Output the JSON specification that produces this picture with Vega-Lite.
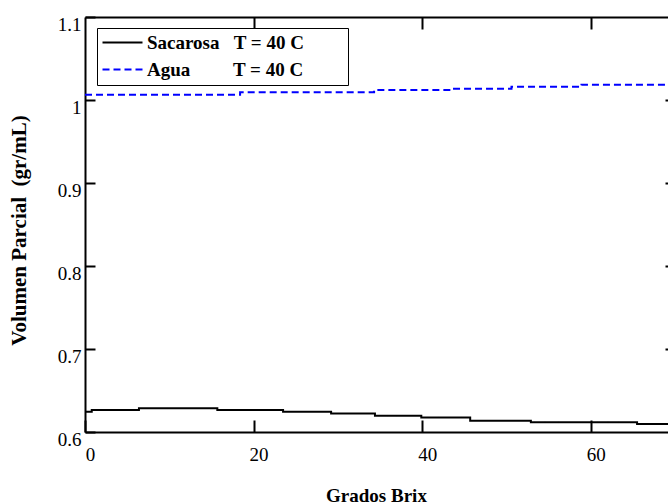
{
  "$schema": "https://vega.github.io/schema/vega-lite/v6.json",
  "width": 590,
  "height": 415,
  "autosize": {"type": "none"},
  "padding": {"left": 85, "top": 17, "right": -7, "bottom": 72},
  "background": "white",
  "config": {
    "view": {"stroke": null},
    "font": "Liberation Serif",
    "axis": {"grid": false, "domainColor": "black", "domainWidth": 2, "tickColor": "black", "tickWidth": 2, "labelColor": "black", "labelFont": "Liberation Serif", "labelFontSize": 19, "titleFont": "Liberation Serif", "titleFontSize": 19, "titleFontWeight": "bold", "titleColor": "black"}
  },
  "data": {
    "values": [
      {"serie": "Sacarosa\u00a0\u00a0\u00a0T = 40 C\u00a0\u00a0\u00a0\u00a0\u00a0\u00a0\u00a0\u00a0\u200b", "brix": 0, "vol": 0.6245},
      {"serie": "Sacarosa\u00a0\u00a0\u00a0T = 40 C\u00a0\u00a0\u00a0\u00a0\u00a0\u00a0\u00a0\u00a0\u200b", "brix": 0.8, "vol": 0.6265},
      {"serie": "Sacarosa\u00a0\u00a0\u00a0T = 40 C\u00a0\u00a0\u00a0\u00a0\u00a0\u00a0\u00a0\u00a0\u200b", "brix": 6.4, "vol": 0.6285},
      {"serie": "Sacarosa\u00a0\u00a0\u00a0T = 40 C\u00a0\u00a0\u00a0\u00a0\u00a0\u00a0\u00a0\u00a0\u200b", "brix": 15.7, "vol": 0.6265},
      {"serie": "Sacarosa\u00a0\u00a0\u00a0T = 40 C\u00a0\u00a0\u00a0\u00a0\u00a0\u00a0\u00a0\u00a0\u200b", "brix": 23.5, "vol": 0.6245},
      {"serie": "Sacarosa\u00a0\u00a0\u00a0T = 40 C\u00a0\u00a0\u00a0\u00a0\u00a0\u00a0\u00a0\u00a0\u200b", "brix": 29.2, "vol": 0.6224},
      {"serie": "Sacarosa\u00a0\u00a0\u00a0T = 40 C\u00a0\u00a0\u00a0\u00a0\u00a0\u00a0\u00a0\u00a0\u200b", "brix": 34.4, "vol": 0.6196},
      {"serie": "Sacarosa\u00a0\u00a0\u00a0T = 40 C\u00a0\u00a0\u00a0\u00a0\u00a0\u00a0\u00a0\u00a0\u200b", "brix": 39.9, "vol": 0.6176},
      {"serie": "Sacarosa\u00a0\u00a0\u00a0T = 40 C\u00a0\u00a0\u00a0\u00a0\u00a0\u00a0\u00a0\u00a0\u200b", "brix": 45.7, "vol": 0.6136},
      {"serie": "Sacarosa\u00a0\u00a0\u00a0T = 40 C\u00a0\u00a0\u00a0\u00a0\u00a0\u00a0\u00a0\u00a0\u200b", "brix": 52.9, "vol": 0.6116},
      {"serie": "Sacarosa\u00a0\u00a0\u00a0T = 40 C\u00a0\u00a0\u00a0\u00a0\u00a0\u00a0\u00a0\u00a0\u200b", "brix": 65.5, "vol": 0.6096},
      {"serie": "Sacarosa\u00a0\u00a0\u00a0T = 40 C\u00a0\u00a0\u00a0\u00a0\u00a0\u00a0\u00a0\u00a0\u200b", "brix": 70, "vol": 0.6096},
      {"serie": "Agua\u00a0\u00a0\u00a0\u00a0\u00a0\u00a0\u00a0\u00a0\u00a0T = 40 C", "brix": 0, "vol": 1.0064},
      {"serie": "Agua\u00a0\u00a0\u00a0\u00a0\u00a0\u00a0\u00a0\u00a0\u00a0T = 40 C", "brix": 18.4, "vol": 1.0092},
      {"serie": "Agua\u00a0\u00a0\u00a0\u00a0\u00a0\u00a0\u00a0\u00a0\u00a0T = 40 C", "brix": 34.3, "vol": 1.012},
      {"serie": "Agua\u00a0\u00a0\u00a0\u00a0\u00a0\u00a0\u00a0\u00a0\u00a0T = 40 C", "brix": 43.4, "vol": 1.0136},
      {"serie": "Agua\u00a0\u00a0\u00a0\u00a0\u00a0\u00a0\u00a0\u00a0\u00a0T = 40 C", "brix": 50.6, "vol": 1.016},
      {"serie": "Agua\u00a0\u00a0\u00a0\u00a0\u00a0\u00a0\u00a0\u00a0\u00a0T = 40 C", "brix": 58.9, "vol": 1.0185},
      {"serie": "Agua\u00a0\u00a0\u00a0\u00a0\u00a0\u00a0\u00a0\u00a0\u00a0T = 40 C", "brix": 70, "vol": 1.0185}
    ]
  },
  "layer": [
    {
      "mark": {"type": "line", "interpolate": "step-after", "strokeWidth": 2, "clip": true},
      "encoding": {
        "x": {
          "field": "brix", "type": "quantitative",
          "scale": {"domain": [0, 70], "nice": false, "zero": false},
          "axis": {"orient": "bottom", "values": [0, 20, 40, 60], "tickSize": -12, "labelPadding": 25, "labelFlush": false, "labelOffset": 5, "title": "Grados Brix", "titleX": 291, "titleY": 69, "titleAlign": "center", "titleBaseline": "alphabetic"}
        },
        "y": {
          "field": "vol", "type": "quantitative",
          "scale": {"domain": [0.6, 1.1], "nice": false, "zero": false},
          "axis": {"orient": "left", "values": [0.6, 0.7, 0.8, 0.9, 1, 1.1], "labelExpr": "format(datum.value, '.1~f')", "tickSize": -10, "labelPadding": 14, "labelFlush": false, "labelBaseline": "top", "labelOffset": -2, "title": "Volumen Parcial\u00a0\u00a0(gr/mL)", "titleFontSize": 21, "titleX": -60, "titleY": 213, "titleAlign": "center", "titleBaseline": "alphabetic", "titleAngle": -90}
        },
        "color": {
          "field": "serie", "type": "nominal",
          "scale": {"domain": ["Sacarosa\u00a0\u00a0\u00a0T = 40 C\u00a0\u00a0\u00a0\u00a0\u00a0\u00a0\u00a0\u00a0\u200b", "Agua\u00a0\u00a0\u00a0\u00a0\u00a0\u00a0\u00a0\u00a0\u00a0T = 40 C"], "range": ["#000000", "#0000ff"]},
          "legend": {"title": null, "orient": "none", "legendX": 12, "legendY": 11, "symbolType": "M-1.8,0H6.2", "symbolSize": 100, "symbolStrokeWidth": 2, "labelFont": "Liberation Serif", "labelFontSize": 19, "labelFontWeight": "bold", "labelColor": "black", "labelLimit": 500, "labelOffset": 26, "padding": 5, "rowPadding": 7, "strokeColor": "black", "fillColor": "white", "cornerRadius": 0}
        },
        "strokeDash": {
          "field": "serie", "type": "nominal",
          "scale": {"domain": ["Sacarosa\u00a0\u00a0\u00a0T = 40 C\u00a0\u00a0\u00a0\u00a0\u00a0\u00a0\u00a0\u00a0\u200b", "Agua\u00a0\u00a0\u00a0\u00a0\u00a0\u00a0\u00a0\u00a0\u00a0T = 40 C"], "range": [[1, 0], [7, 4]]},
          "legend": {"title": null, "orient": "none", "legendX": 12, "legendY": 11, "symbolType": "M-1.8,0H6.2", "symbolSize": 100, "symbolStrokeWidth": 2, "labelFont": "Liberation Serif", "labelFontSize": 19, "labelFontWeight": "bold", "labelColor": "black", "labelLimit": 500, "labelOffset": 26, "padding": 5, "rowPadding": 7, "strokeColor": "black", "fillColor": "white", "cornerRadius": 0}
        }
      }
    },
    {
      "mark": {"type": "point", "opacity": 0},
      "encoding": {
        "x": {"field": "brix", "type": "quantitative", "axis": {"orient": "top", "values": [20, 40, 60], "labels": false, "title": null, "tickSize": -12}},
        "y": {"field": "vol", "type": "quantitative", "axis": {"orient": "right", "values": [0.7, 0.8, 0.9, 1], "labels": false, "title": null, "domain": false, "tickSize": -10}}
      }
    }
  ],
  "resolve": {"axis": {"x": "independent", "y": "independent"}}
}
